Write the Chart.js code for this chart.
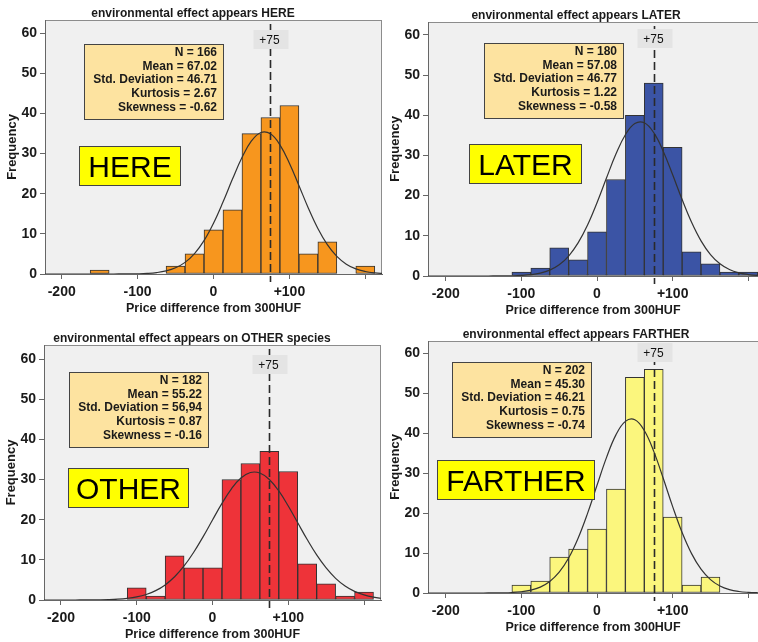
<!DOCTYPE html>
<html>
<head>
<meta charset="utf-8">
<script src="https://cdn.jsdelivr.net/npm/chart.js@4.4.1/dist/chart.umd.min.js"></script>
<style>
  body { margin: 0; background: #fff; }
  #wrap { position: relative; width: 758px; height: 642px; overflow: hidden; }
  canvas { position: absolute; }
</style>
</head>
<body>
<div id="wrap">
  <canvas id="here" width="383" height="320" style="left:0;top:0"></canvas>
  <canvas id="later" width="378" height="320" style="left:380px;top:0"></canvas>
  <canvas id="other" width="383" height="322" style="left:0;top:320px"></canvas>
  <canvas id="farther" width="378" height="322" style="left:380px;top:320px"></canvas>
</div>
<script>
// histogram bins (bin centres, width 25) and counts
const hereBins = [-150, -50, -25, 0, 25, 50, 75, 100, 125, 150, 200];
const hereCounts = [1, 2, 5, 11, 16, 35, 39, 42, 5, 8, 2];
const laterBins = [-100, -75, -50, -25, 0, 25, 50, 75, 100, 125, 150, 175, 200];
const laterCounts = [1, 2, 7, 4, 11, 24, 40, 48, 32, 6, 3, 1, 1];
const otherBins = [-100, -75, -50, -25, 0, 25, 50, 75, 100, 125, 150, 175, 200];
const otherCounts = [3, 1, 11, 8, 8, 30, 34, 37, 32, 9, 4, 1, 2];
const fartherBins = [-100, -75, -50, -25, 0, 25, 50, 75, 100, 125, 150];
const fartherCounts = [2, 3, 9, 11, 16, 26, 54, 56, 19, 2, 4];

// normal curve
const curveX = [-225, -212.5, -200, -187.5, -175, -162.5, -150, -137.5, -125, -112.5, -100, -87.5, -75, -62.5, -50, -37.5, -25, -12.5,
  0, 12.5, 25, 37.5, 50, 62.5, 75, 87.5, 100, 112.5, 125, 137.5, 150, 162.5, 175, 187.5, 200, 212.5, 225];
const hereCurve = [0, 0, 0, 0, 0, 0, 0.001, 0.002, 0.008, 0.022, 0.059, 0.15, 0.35, 0.76, 1.54, 2.9, 5.09, 8.32,
  12.66, 17.93, 23.65, 29.02, 33.16, 35.27, 34.93, 32.19, 27.62, 22.06, 16.4, 11.35, 7.31, 4.39, 2.45, 1.27, 0.62, 0.28, 0.12];
const laterCurve = [0, 0, 0, 0, 0, 0.001, 0.002, 0.007, 0.02, 0.054, 0.136, 0.32, 0.71, 1.46, 2.79, 4.97, 8.23, 12.69,
  18.23, 24.37, 30.34, 35.16, 37.94, 38.12, 35.66, 31.07, 25.19, 19.02, 13.37, 8.75, 5.33, 3.03, 1.6, 0.79, 0.36, 0.15, 0.06];
const otherCurve = [0, 0.001, 0.001, 0.004, 0.009, 0.021, 0.048, 0.1, 0.21, 0.42, 0.78, 1.38, 2.33, 3.76, 5.78, 8.47, 11.82, 15.72,
  19.92, 24.06, 27.69, 30.37, 31.75, 31.62, 30.01, 27.15, 23.4, 19.22, 15.05, 11.22, 7.98, 5.4, 3.49, 2.15, 1.26, 0.7, 0.37];
const fartherCurve = [0, 0, 0, 0, 0.001, 0.002, 0.006, 0.017, 0.049, 0.13, 0.31, 0.7, 1.47, 2.87, 5.2, 8.75, 13.71, 19.94,
  26.97, 33.89, 39.59, 42.98, 43.37, 40.68, 35.46, 28.73, 21.64, 15.15, 9.86, 5.96, 3.35, 1.75, 0.85, 0.38, 0.16, 0.06, 0.02];

const hereStats = ['N = 166', 'Mean = 67.02', 'Std. Deviation = 46.71', 'Kurtosis = 2.67', 'Skewness = -0.62'];
const laterStats = ['N = 180', 'Mean = 57.08', 'Std. Deviation = 46.77', 'Kurtosis = 1.22', 'Skewness = -0.58'];
const otherStats = ['N = 182', 'Mean = 55.22', 'Std. Deviation = 56,94', 'Kurtosis = 0.87', 'Skewness = -0.16'];
const fartherStats = ['N = 202', 'Mean = 45.30', 'Std. Deviation = 46.21', 'Kurtosis = 0.75', 'Skewness = -0.74'];

const xTicks = [-200, -100, 0, 100, 200];
const xTickLabels = ['-200', '-100', '0', '+100', ''];
const yTicks = [0, 10, 20, 30, 40, 50, 60];
const refLine = 75;
const refLabel = '+75';

const FONT = '"Liberation Sans", Arial, sans-serif';

function decor(p) {
  return {
    id: 'decor',
    beforeDraw(chart) {
      const { ctx, chartArea: a } = chart;
      ctx.save();
      ctx.fillStyle = '#f0f0f0';
      ctx.fillRect(a.left, a.top, a.right - a.left, a.bottom - a.top);
      ctx.strokeStyle = '#8c8c8c';
      ctx.lineWidth = 1;
      ctx.beginPath();
      ctx.moveTo(a.left, a.top + 0.5);
      ctx.lineTo(a.right, a.top + 0.5);
      if (p.rightBorder) {
        ctx.moveTo(a.right - 0.5, a.top);
        ctx.lineTo(a.right - 0.5, a.bottom);
      }
      ctx.stroke();
      ctx.restore();
    },
    afterDatasetsDraw(chart) {
      const { ctx, chartArea: a } = chart;
      const x = Math.round(chart.scales.x.getPixelForValue(refLine)) + 0.5;
      ctx.save();
      ctx.strokeStyle = '#2a2a2a';
      ctx.lineWidth = 1.6;
      ctx.setLineDash([8, 4]);
      ctx.beginPath();
      ctx.moveTo(x, a.top + 4);
      ctx.lineTo(x, a.bottom + 8);
      ctx.stroke();
      ctx.setLineDash([]);
      ctx.fillStyle = '#e4e4e4';
      ctx.fillRect(x - 17, a.top + p.refTop, 35, 19);
      ctx.fillStyle = '#111';
      ctx.font = '12px ' + FONT;
      ctx.textAlign = 'center';
      ctx.fillText(refLabel, x - 1, a.top + p.refTop + 14);
      ctx.restore();
    },
    afterDraw(chart) {
      const { ctx, chartArea: a } = chart;
      ctx.save();
      // stats box
      const s = p.statBox;
      ctx.fillStyle = '#fde3a0';
      ctx.fillRect(s[0], s[1], 140, 76);
      ctx.strokeStyle = '#444';
      ctx.lineWidth = 1;
      ctx.strokeRect(s[0] + 0.5, s[1] + 0.5, 139, 75);
      ctx.fillStyle = '#1a1a1a';
      ctx.font = 'bold 12px ' + FONT;
      ctx.textAlign = 'right';
      p.stats.forEach((t, i) => ctx.fillText(t, s[0] + 133, s[1] + 12 + i * 13.7));
      // group label
      const b = p.labelBox;
      ctx.fillStyle = '#ffff00';
      ctx.fillRect(b[0], b[1], b[2], 40);
      ctx.strokeStyle = '#444';
      ctx.strokeRect(b[0] + 0.5, b[1] + 0.5, b[2] - 1, 39);
      ctx.fillStyle = '#000';
      ctx.font = '30px ' + FONT;
      ctx.textAlign = 'center';
      ctx.fillText(p.label, b[0] + b[2] / 2, b[1] + 31);
      // titles
      ctx.fillStyle = '#1a1a1a';
      ctx.font = 'bold 12px ' + FONT;
      ctx.fillText(p.title, a.left + 148, a.top - 3.5);
      ctx.font = 'bold 12.5px ' + FONT;
      ctx.fillText('Price difference from 300HUF', (a.left + a.right) / 2, a.bottom + 38);
      ctx.font = 'bold 13px ' + FONT;
      ctx.translate(a.left - 29, (a.top + a.bottom) / 2);
      ctx.rotate(-Math.PI / 2);
      ctx.fillText('Frequency', 0, 0);
      ctx.restore();
    }
  };
}

function makePanel(id, bins, counts, curve, color, p) {
  const ctx = document.getElementById(id).getContext('2d');
  const axisGrid = { display: true, drawOnChartArea: false, drawTicks: true, tickLength: 5, color: '#666', offset: false };
  return new Chart(ctx, {
    type: 'bar',
    data: {
      datasets: [
        {
          type: 'line',
          order: 0,
          data: curveX.map((x, i) => ({ x: x, y: curve[i] })),
          borderColor: '#333',
          borderWidth: 1.2,
          pointRadius: 0,
          tension: 0.4,
          fill: false
        },
        {
          order: 1,
          data: bins.map((x, i) => ({ x: x, y: counts[i] })),
          backgroundColor: color,
          borderColor: '#333',
          borderWidth: 1,
          borderSkipped: false,
          barPercentage: 1,
          categoryPercentage: 1,
          grouped: false
        }
      ]
    },
    options: {
      responsive: false,
      animation: false,
      devicePixelRatio: 1,
      layout: { padding: { top: p.padTop, right: p.padRight, left: 0, bottom: 0 } },
      plugins: { legend: { display: false }, tooltip: { enabled: false }, title: { display: false } },
      scales: {
        x: {
          type: 'linear',
          min: p.xMin,
          max: p.xMax,
          offset: false,
          grid: axisGrid,
          border: { display: true, color: '#666' },
          afterBuildTicks: (s) => { s.ticks = xTicks.map(v => ({ value: v })); },
          afterFit: (s) => { s.height = p.xAxisH; },
          ticks: {
            padding: 5,
            color: '#1a1a1a',
            font: { size: 14, weight: 'bold', family: FONT },
            maxRotation: 0,
            callback: (v) => xTickLabels[xTicks.indexOf(v)]
          }
        },
        y: {
          min: 0,
          max: p.yMax,
          grid: axisGrid,
          border: { display: true, color: '#666' },
          afterBuildTicks: (s) => { s.ticks = yTicks.map(v => ({ value: v })); },
          afterFit: (s) => { s.width = p.yAxisW; },
          ticks: { padding: 3, color: '#1a1a1a', font: { size: 14, weight: 'bold', family: FONT } }
        }
      }
    },
    plugins: [decor(p)]
  });
}

makePanel('here', hereBins, hereCounts, hereCurve, '#f7961e', {
  padTop: 20, padRight: 1, xAxisH: 46, yAxisW: 45, xMin: -222, xMax: 222, yMax: 63.3, rightBorder: true,
  refTop: 10, statBox: [84, 44], labelBox: [79, 146, 102], label: 'HERE',
  stats: hereStats, title: 'environmental effect appears HERE'
});
makePanel('later', laterBins, laterCounts, laterCurve, '#3b54a5', {
  padTop: 22, padRight: 0, xAxisH: 44, yAxisW: 48, xMin: -223.4, xMax: 212.8, yMax: 63.2, rightBorder: false,
  refTop: 7, statBox: [104, 43], labelBox: [89, 144, 113], label: 'LATER',
  stats: laterStats, title: 'environmental effect appears LATER'
});
makePanel('other', otherBins, otherCounts, otherCurve, '#ee3339', {
  padTop: 25, padRight: 2, xAxisH: 42, yAxisW: 44, xMin: -222.4, xMax: 222.4, yMax: 63.5, rightBorder: true,
  refTop: 10, statBox: [69, 52], labelBox: [68, 148, 121], label: 'OTHER',
  stats: otherStats, title: 'environmental effect appears on OTHER species'
});
makePanel('farther', fartherBins, fartherCounts, fartherCurve, '#fbf67d', {
  padTop: 21, padRight: 0, xAxisH: 49, yAxisW: 48, xMin: -223.4, xMax: 212.8, yMax: 63.1, rightBorder: false,
  refTop: 2, statBox: [72, 42], labelBox: [57, 140, 158], label: 'FARTHER',
  stats: fartherStats, title: 'environmental effect appears FARTHER'
});
</script>
</body>
</html>
